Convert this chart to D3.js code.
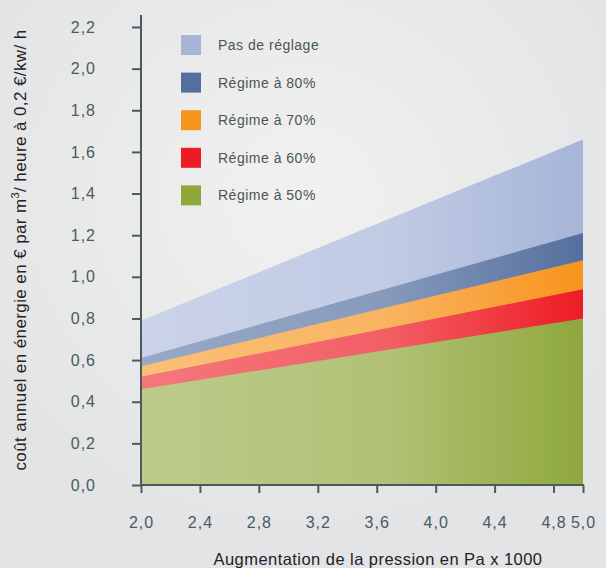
<!DOCTYPE html>
<html>
<head>
<meta charset="utf-8">
<script src="https://cdn.jsdelivr.net/npm/d3@7"></script>
<style>
  body { margin: 0; background: #e4e5e7; }
  svg text { font-family: "Liberation Sans", Arial, sans-serif; }
</style>
</head>
<body>
<div id="chart"></div>
<script>
// data
var pressure = [2.0, 5.0];
var seriesNames = ["Pas de réglage", "Régime à 80%", "Régime à 70%", "Régime à 60%", "Régime à 50%"];
var pasDeReglage = [0.79, 1.66];
var regime80 = [0.61, 1.21];
var regime70 = [0.57, 1.08];
var regime60 = [0.52, 0.94];
var regime50 = [0.46, 0.80];
var xTicks = [2.0, 2.4, 2.8, 3.2, 3.6, 4.0, 4.4, 4.8, 5.0];
var yTicks = [0, 0.2, 0.4, 0.6, 0.8, 1.0, 1.2, 1.4, 1.6, 1.8, 2.0, 2.2];

var colors = ["#a6b5d8", "#546f9f", "#f7941d", "#ed1c24", "#8fa83c"];
var allSeries = [pasDeReglage, regime80, regime70, regime60, regime50];

var svgWidth = 606;
var svgHeight = 568;
var margin = { top: 27, right: 23, bottom: 83, left: 141 };
var width = svgWidth - margin.left - margin.right;
var height = svgHeight - margin.top - margin.bottom;

var svg = d3.select("#chart")
  .append("svg")
  .attr("width", svgWidth)
  .attr("height", svgHeight);

var defs = svg.append("defs");

// background glow
var bg = defs.append("radialGradient")
  .attr("id", "bg")
  .attr("cx", "0.5").attr("cy", "0.35").attr("r", "0.6");
bg.append("stop").attr("offset", "0%").attr("stop-color", "#f1f1f0");
bg.append("stop").attr("offset", "100%").attr("stop-color", "#e3e4e6");

svg.append("rect")
  .attr("width", svgWidth)
  .attr("height", svgHeight)
  .attr("fill", "url(#bg)");

// each area fades from pale on the left to full colour on the right
colors.forEach(function(c, i) {
  var g = defs.append("linearGradient")
    .attr("id", "grad" + i)
    .attr("x1", "0").attr("x2", "1").attr("y1", "0").attr("y2", "0");
  g.append("stop").attr("offset", "0%")
    .attr("stop-color", d3.interpolateRgb(c, "#ffffff")(0.4));
  g.append("stop").attr("offset", "55%")
    .attr("stop-color", d3.interpolateRgb(c, "#ffffff")(0.3));
  g.append("stop").attr("offset", "100%").attr("stop-color", c);
});

var chartGroup = svg.append("g")
  .attr("transform", `translate(${margin.left}, ${margin.top})`);

var xScale = d3.scaleLinear().domain([2.0, 5.0]).range([0, width]);
var yScale = d3.scaleLinear().domain([0, 2.2]).range([height, 0]);

var area = d3.area()
  .x(d => xScale(d.x))
  .y0(yScale(0))
  .y1(d => yScale(d.y));

allSeries.forEach(function(vals, i) {
  var pts = pressure.map((p, j) => ({ x: p, y: vals[j] }));
  chartGroup.append("path")
    .datum(pts)
    .attr("d", area)
    .attr("fill", "url(#grad" + i + ")");
});

var axisColor = "#4d5a5b";
var fmt = d => d3.format(".1f")(d).replace(".", ",");

var bottomAxis = d3.axisBottom(xScale)
  .tickValues(xTicks)
  .tickSize(8)
  .tickPadding(24)
  .tickFormat(fmt);

var leftAxis = d3.axisLeft(yScale)
  .tickValues(yTicks)
  .tickSize(9)
  .tickPadding(36)
  .tickFormat(fmt);

var xAxisG = chartGroup.append("g")
  .attr("transform", `translate(0, ${height})`)
  .call(bottomAxis);

var yAxisG = chartGroup.append("g")
  .call(leftAxis);

[xAxisG, yAxisG].forEach(function(g) {
  g.select(".domain").remove();
  g.selectAll("line").attr("stroke", axisColor).attr("stroke-width", 2);
  g.selectAll("text")
    .attr("fill", axisColor)
    .style("font-size", "16px")
    .style("letter-spacing", "1px");
});

// axis lines
chartGroup.append("line")
  .attr("x1", 0).attr("x2", 0)
  .attr("y1", -12).attr("y2", height + 1)
  .attr("stroke", axisColor).attr("stroke-width", 2);
chartGroup.append("line")
  .attr("x1", -1).attr("x2", width + 1)
  .attr("y1", height).attr("y2", height)
  .attr("stroke", axisColor).attr("stroke-width", 2);

// legend
var legend = svg.append("g")
  .attr("transform", "translate(181, 35)");

seriesNames.forEach(function(name, i) {
  var row = legend.append("g")
    .attr("transform", `translate(0, ${i * 37.6})`);
  row.append("rect")
    .attr("width", 20).attr("height", 20)
    .attr("fill", colors[i]);
  row.append("text")
    .attr("x", 37).attr("y", 15)
    .attr("fill", "#4a5556")
    .style("font-size", "14px")
    .style("letter-spacing", "0.5px")
    .text(name);
});

// axis titles
svg.append("text")
  .attr("transform", "translate(26, 250) rotate(-90)")
  .attr("text-anchor", "middle")
  .attr("fill", "#222")
  .style("font-size", "17px")
  .style("letter-spacing", "0.4px")
  .html("coût annuel en énergie en € par m<tspan dy='-7' font-size='11px'>3</tspan><tspan dy='7'>/ heure à 0,2 €/kw/ h</tspan>");

svg.append("text")
  .attr("x", 378)
  .attr("y", 565)
  .attr("text-anchor", "middle")
  .attr("fill", "#222")
  .style("font-size", "16.5px")
  .style("letter-spacing", "0.45px")
  .text("Augmentation de la pression en Pa x 1000");
</script>
</body>
</html>
